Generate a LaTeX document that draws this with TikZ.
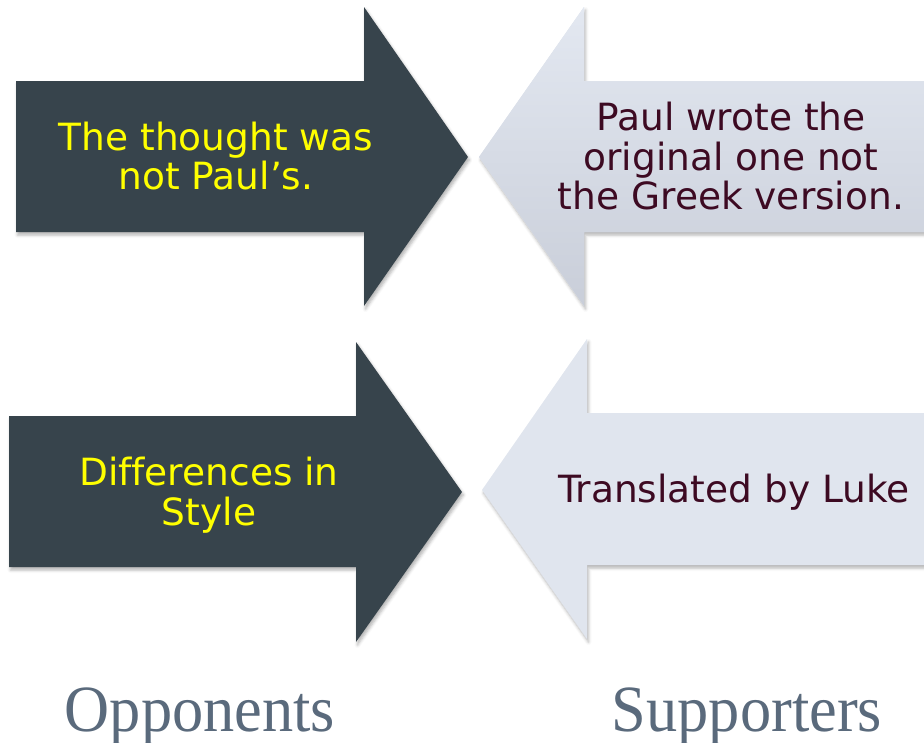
\documentclass[tikz,border=0pt]{standalone}
\usepackage{fontspec}
\setmainfont{Liberation Serif}
\newfontfamily\boxfont[Ligatures=CommonOff]{DejaVu Sans}
\usetikzlibrary{shadows.blur}
\definecolor{slatedark}{HTML}{37444C}
\definecolor{hiyellow}{HTML}{FFFF00}
\definecolor{paleblue}{HTML}{E0E5EE}
\definecolor{paletop}{HTML}{E3E8F1}
\definecolor{palebottom}{HTML}{C9CED9}
\definecolor{maroontext}{HTML}{3D0A22}
\definecolor{labelgray}{HTML}{5A6A7C}
\begin{document}
\begin{tikzpicture}[x=1pt,y=-1pt,
  arrowshadow/.style={blur shadow={shadow xshift=1.5pt,shadow yshift=-3pt,
      shadow opacity=30,shadow blur radius=3pt}},
  darkarrow/.style={fill=slatedark,draw=none,arrowshadow},
  lightarrow/.style={fill=paleblue,draw=none,arrowshadow},
  darktext/.style={text=hiyellow,align=center,inner sep=0pt,
      font=\boxfont\fontsize{37.5}{39.5}\selectfont},
  lighttext/.style={text=maroontext,align=center,inner sep=0pt,
      font=\boxfont\fontsize{37.5}{39.5}\selectfont},
  sidelabel/.style={text=labelgray,inner sep=0pt,anchor=base,xscale=0.945,
      font=\fontsize{66}{70}\selectfont}]
\useasboundingbox (0,0) rectangle (924,742);
\clip (0,0) rectangle (924,742);

% upper row
\path[darkarrow] (16,81) -- (364,81) -- (364,7) -- (468,157) -- (364,306)
  -- (364,232) -- (16,232) -- cycle;
\path[lightarrow,top color=paletop,bottom color=palebottom]
  (479,157) -- (584,7) -- (584,81) -- (940,81) -- (940,232) -- (584,232)
  -- (584,306) -- cycle;
\node[darktext] (thought) at (216,156) {The thought was\\not Paul’s.};
\node[lighttext] (original) at (731,156.5)
  {Paul wrote the\\original one not\\the Greek version.};

% lower row
\path[darkarrow] (9,416) -- (356,416) -- (356,342) -- (462,492) -- (356,642)
  -- (356,567) -- (9,567) -- cycle;
\path[lightarrow] (482,490) -- (587,339) -- (587,413) -- (940,413)
  -- (940,565) -- (587,565) -- (587,639) -- cycle;
\node[darktext] (style) at (209,495) {Differences in\\Style};
\node[lighttext] (luke) at (734,492) {Translated by Luke};

% column captions
\node[sidelabel] (opponents) at (200,731) {Opponents};
\node[sidelabel] (supporters) at (747,731) {Supporters};
\end{tikzpicture}
\end{document}
